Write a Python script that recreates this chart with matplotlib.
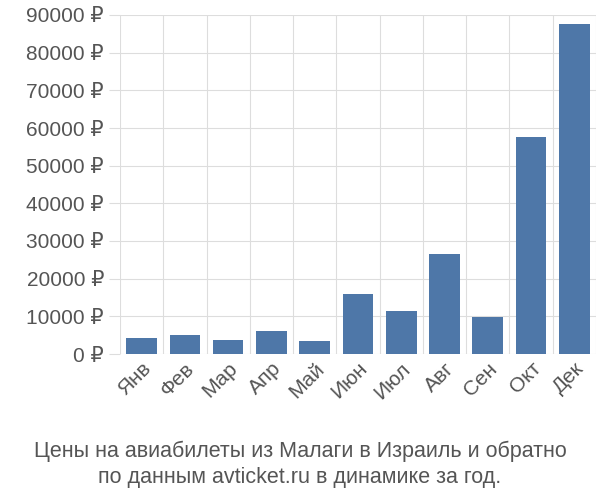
import matplotlib
matplotlib.use("Agg")
import matplotlib.pyplot as plt
import numpy as np

plt.rcParams['font.family'] = ['Liberation Sans', 'DejaVu Sans']

months = ["Янв", "Фев", "Мар", "Апр", "Май", "Июн", "Июл", "Авг", "Сен", "Окт", "Дек"]
prices = [4300, 5000, 3700, 6100, 3500, 15900, 11400, 26500, 9800, 57600, 87600]
yticks = list(range(0, 90001, 10000))
title = "Цены на авиабилеты из Малаги в Израиль и обратно\nпо данным avticket.ru в динамике за год."

fig = plt.figure(figsize=(6, 5), dpi=100)
ax = fig.add_axes([0.2, 0.292, 0.793, 0.678])
x = np.arange(len(months))
ax.bar(x, prices, width=0.71, color="#4e77a8", zorder=3)
ax.set_xlim(-0.5, len(months) - 0.5)
ax.set_ylim(0, 90000)
ax.set_yticks(yticks)
ax.set_yticklabels([f"{v} ₽" for v in yticks], fontsize=15, color="#555555")
ax.set_xticks(x)
ax.set_xticklabels(months, rotation=45, ha="right", rotation_mode="anchor", fontsize=15, color="#555555")
ax.set_xticks(np.arange(-0.5, len(months)), minor=True)
ax.grid(True, which="minor", axis="x", color="#dddddd", zorder=0)
ax.grid(True, which="major", axis="y", color="#dddddd", zorder=0)
ax.tick_params(axis="x", which="both", length=0)
ax.tick_params(axis="y", length=8, color="#dddddd")
for s in ax.spines.values():
    s.set_visible(False)
fig.text(0.5, 0.025, title, ha="center", va="bottom", fontsize=15.5, color="#555555", linespacing=1.3)
fig.savefig("out.png")
